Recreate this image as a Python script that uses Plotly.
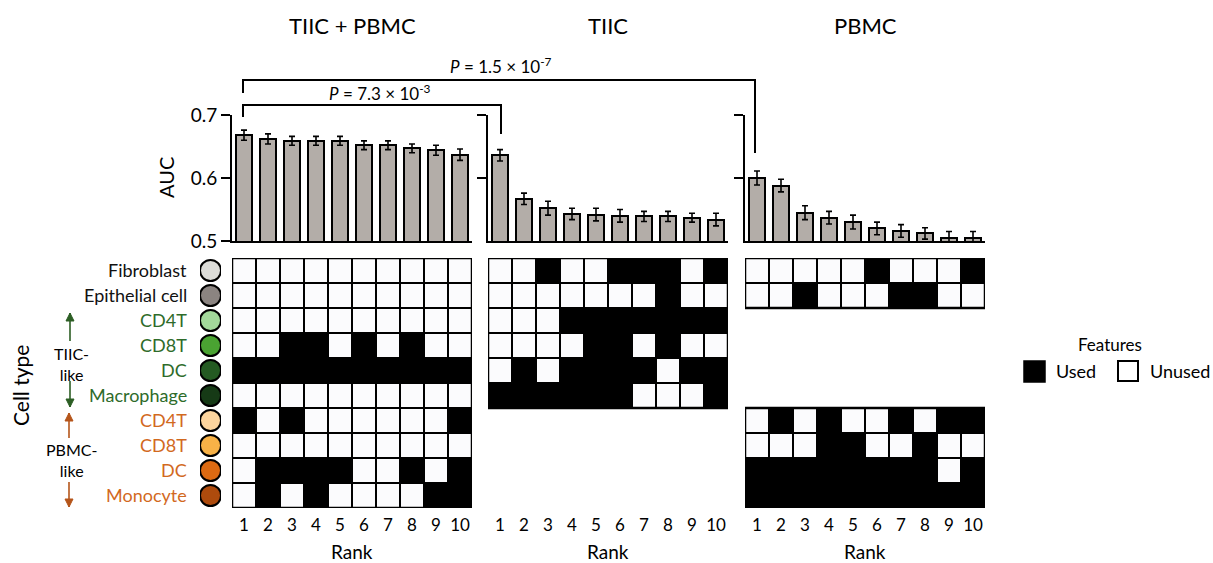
import plotly.graph_objects as go

W, H = 1213, 563
def X(px): return px / W
def Y(py): return 1 - py / H

FONT = "Lato"

ranks = list(range(1, 11))
rank_labels = [str(r) for r in ranks]

# AUC values
auc_both = [0.668, 0.662, 0.659, 0.659, 0.659, 0.652, 0.652, 0.647, 0.644, 0.637]
err_both = [0.008, 0.008, 0.007, 0.007, 0.007, 0.007, 0.007, 0.007, 0.008, 0.009]
auc_tiic = [0.636, 0.567, 0.552, 0.543, 0.542, 0.540, 0.539, 0.539, 0.537, 0.534]
err_tiic = [0.009, 0.009, 0.011, 0.009, 0.010, 0.010, 0.008, 0.008, 0.007, 0.010]
auc_pbmc = [0.600, 0.588, 0.545, 0.537, 0.530, 0.520, 0.516, 0.512, 0.505, 0.505]
err_pbmc = [0.011, 0.010, 0.011, 0.010, 0.011, 0.010, 0.010, 0.009, 0.010, 0.010]

cell_types = ["Fibroblast", "Epithelial cell", "CD4T", "CD8T", "DC", "Macrophage",
              "CD4T", "CD8T", "DC", "Monocyte"]
cell_colors = ["#dcdcd8", "#8b8481", "#a3d99b", "#4aa332", "#245a22", "#163a16",
               "#fdd59e", "#f8b247", "#dc6a12", "#ae4b0d"]
label_colors = ["#111111", "#111111", "#2e6b2a", "#2e6b2a", "#2e6b2a", "#2e6b2a",
                "#d2691e", "#d2691e", "#d2691e", "#d2691e"]

# Feature usage (1 = used, 0 = unused, None = not available)
use_both = [
    [0, 0, 0, 0, 0, 0, 0, 0, 0, 0],
    [0, 0, 0, 0, 0, 0, 0, 0, 0, 0],
    [0, 0, 0, 0, 0, 0, 0, 0, 0, 0],
    [0, 0, 1, 1, 0, 1, 0, 1, 0, 0],
    [1, 1, 1, 1, 1, 1, 1, 1, 1, 1],
    [0, 0, 0, 0, 0, 0, 0, 0, 0, 0],
    [1, 0, 1, 0, 0, 0, 0, 0, 0, 1],
    [0, 0, 0, 0, 0, 0, 0, 0, 0, 0],
    [0, 1, 1, 1, 1, 0, 0, 1, 0, 1],
    [0, 1, 0, 1, 0, 0, 0, 0, 1, 1],
]
NA = [None] * 10
use_tiic = [
    [0, 0, 1, 0, 0, 1, 1, 1, 0, 1],
    [0, 0, 0, 0, 0, 0, 0, 1, 0, 0],
    [0, 0, 0, 1, 1, 1, 1, 1, 1, 1],
    [0, 0, 0, 0, 1, 1, 0, 1, 0, 0],
    [0, 1, 0, 1, 1, 1, 1, 0, 1, 1],
    [1, 1, 1, 1, 1, 1, 0, 0, 0, 1],
    NA, NA, NA, NA,
]
use_pbmc = [
    [0, 0, 0, 0, 0, 1, 0, 0, 0, 1],
    [0, 0, 1, 0, 0, 0, 1, 1, 0, 0],
    NA, NA, NA, NA,
    [0, 1, 0, 1, 0, 0, 1, 0, 1, 1],
    [0, 0, 0, 1, 1, 0, 0, 1, 0, 0],
    [1, 1, 1, 1, 1, 1, 1, 1, 0, 1],
    [1, 1, 1, 1, 1, 1, 1, 1, 1, 1],
]
rows = list(range(10))

panel_titles = ["TIIC + PBMC", "TIIC", "PBMC"]
p_labels = ["<i>P</i> = 7.3 × 10<sup>-3</sup>", "<i>P</i> = 1.5 × 10<sup>-7</sup>"]

# ---------------------------------------------------------------- layout geometry (px)
panel_x = [(232, 472), (488, 728), (745, 985)]
bar_y = (241, 115)
hm_y = (508, 258)

fig = go.Figure()

bar_sets = [(auc_both, err_both), (auc_tiic, err_tiic), (auc_pbmc, err_pbmc)]
for i, (vals, errs) in enumerate(bar_sets):
    xa = "x" if i == 0 else f"x{i+1}"
    ya = "y" if i == 0 else f"y{i+1}"
    fig.add_trace(go.Bar(
        x=ranks, y=vals, width=0.64,
        marker=dict(color="#b3ada8", line=dict(color="black", width=2)),
        error_y=dict(type="data", array=errs, thickness=1.6, width=3, color="black"),
        xaxis=xa, yaxis=ya, showlegend=False, hoverinfo="skip"))

hm_sets = [use_both, use_tiic, use_pbmc]
for i, z in enumerate(hm_sets):
    fig.add_trace(go.Heatmap(
        z=z, x=ranks, y=rows, zmin=0, zmax=1,
        colorscale=[[0, "#fbfbfd"], [1, "#000000"]], showscale=False,
        xgap=2, ygap=2, xaxis=f"x{i+4}", yaxis=f"y{i+4}", hoverinfo="skip"))

# cell-type circles
fig.add_trace(go.Scatter(
    x=[0.5] * 10, y=rows, mode="markers",
    marker=dict(size=21, color=cell_colors, line=dict(color="black", width=2)),
    xaxis="x7", yaxis="y4", showlegend=False, hoverinfo="skip"))

layout = dict(
    width=W, height=H, margin=dict(l=0, r=0, t=0, b=0, pad=0, autoexpand=False),
    paper_bgcolor="white", plot_bgcolor="white",
    font=dict(family=FONT, size=16, color="black"),
    bargap=0, showlegend=False,
)

for i in range(3):
    x0, x1 = panel_x[i]
    sfx = "" if i == 0 else str(i + 1)
    layout[f"xaxis{sfx}"] = dict(
        domain=[X(x0), X(x1)], range=[0.5, 10.5], anchor=f"y{sfx}",
        showline=True, linewidth=2, linecolor="black", showticklabels=False,
        ticks="", showgrid=False, zeroline=False, fixedrange=True)
    ya = dict(
        domain=[Y(bar_y[0]), Y(bar_y[1])], range=[0.5, 0.7], anchor=f"x{sfx}",
        showline=True, linewidth=2, linecolor="black", ticks="outside",
        ticklen=9, tickwidth=2, tickcolor="black", showgrid=False, zeroline=False,
        fixedrange=True)
    if i == 0:
        ya.update(tickvals=[0.5, 0.6, 0.7], ticktext=["0.5", "0.6", "0.7"],
                  tickfont=dict(size=19))
    else:
        ya.update(tickvals=[0.6, 0.7], showticklabels=False)
    layout[f"yaxis{sfx}"] = ya

    k = i + 4
    layout[f"xaxis{k}"] = dict(
        domain=[X(x0), X(x1)], range=[0.5, 10.5], anchor=f"y{k}",
        tickvals=ranks, ticktext=rank_labels, ticks="outside", ticklen=2,
        tickcolor="rgba(0,0,0,0)", showline=False, showgrid=False, zeroline=False,
        tickfont=dict(size=17), fixedrange=True)
    layout[f"yaxis{k}"] = dict(
        domain=[Y(hm_y[0]), Y(hm_y[1])], range=[9.5, -0.5], anchor=f"x{k}",
        visible=False, fixedrange=True)

layout["xaxis7"] = dict(domain=[X(200), X(221)], range=[0, 1], visible=False,
                        anchor="y4", fixedrange=True)
fig.update_layout(**layout)

shapes = []
# black backgrounds + frames of the feature grids
blocks = [("x4", "y4", -0.5, 9.5), ("x5", "y5", -0.5, 5.5),
          ("x6", "y6", -0.5, 1.5), ("x6", "y6", 5.5, 9.5)]
for xr, yr, y0, y1 in blocks:
    shapes.append(dict(type="rect", xref=xr, yref=yr, x0=0.5, x1=10.5, y0=y0, y1=y1,
                       fillcolor="black", line=dict(color="black", width=0), layer="below"))
    shapes.append(dict(type="rect", xref=xr, yref=yr, x0=0.5, x1=10.5, y0=y0, y1=y1,
                       fillcolor="rgba(0,0,0,0)", line=dict(color="black", width=2.5),
                       layer="above"))

# significance brackets
def line(xa, ya, xb, yb, color="black", width=2):
    shapes.append(dict(type="line", xref="paper", yref="paper",
                       x0=X(xa), y0=Y(ya), x1=X(xb), y1=Y(yb),
                       line=dict(color=color, width=width)))
line(243, 80, 755, 80)
line(243, 79, 243, 93)
line(755, 79, 755, 153)
line(243, 105, 501, 105)
line(243, 104, 243, 117)
line(501, 104, 501, 134)

# legend squares
shapes.append(dict(type="rect", xref="paper", yref="paper", x0=X(1024), x1=X(1045),
                   y0=Y(382), y1=Y(361), fillcolor="black", line=dict(color="black", width=1.5)))
shapes.append(dict(type="rect", xref="paper", yref="paper", x0=X(1118), x1=X(1138),
                   y0=Y(381), y1=Y(361), fillcolor="white", line=dict(color="black", width=2)))

# vertical arrows beside the TIIC-like / PBMC-like groups
def arrow(x, yhead, ytail, color):
    line(x, ytail, x, yhead, color=color, width=1.6)
    d = 1 if ytail > yhead else -1
    path = (f"M {X(x - 4)},{Y(yhead + 8 * d)} L {X(x)},{Y(yhead)} "
            f"L {X(x + 4)},{Y(yhead + 8 * d)} Z")
    shapes.append(dict(type="path", xref="paper", yref="paper", path=path,
                       fillcolor=color, line=dict(color=color, width=1)))
arrow(70, 313, 341, "#2c5e24")
arrow(70, 407, 381, "#2c5e24")
arrow(69, 413, 438, "#b5551a")
arrow(69, 507, 482, "#b5551a")

ann = []
def text(t, x, y, size=16, color="black", xanchor="center", angle=0):
    ann.append(dict(text=t, x=X(x), y=Y(y), xref="paper", yref="paper", showarrow=False,
                    xanchor=xanchor, yanchor="middle", textangle=angle,
                    font=dict(family=FONT, size=size, color=color)))

for i in range(3):
    x0, x1 = panel_x[i]
    text(panel_titles[i], (x0 + x1) / 2, 25, size=22)
    text("Rank", (x0 + x1) / 2, 551, size=19)
text(p_labels[0], 380, 92, size=17)
text(p_labels[1], 501, 65, size=17)
text("AUC", 166, 178, size=20, angle=-90)
text("Cell type", 20, 386, size=21, angle=-90)
text("TIIC-<br>like", 71, 364, size=16)
text("PBMC-<br>like", 71, 460, size=16)
text("Features", 1110, 344, size=17)
text("Used", 1054, 371, size=18, xanchor="left")
text("Unused", 1148, 371, size=18, xanchor="left")

for i, (lab, col) in enumerate(zip(cell_types, label_colors)):
    ann.append(dict(text=lab, x=X(189), y=i, xref="paper", yref="y4", showarrow=False,
                    xanchor="right", yanchor="middle",
                    font=dict(family=FONT, size=18, color=col)))

fig.update_layout(shapes=shapes, annotations=ann)
# the default HTML page has an 8px body margin; remove it so the 1213x563 figure fills the window
fig.write_html("out.html", config={"displayModeBar": False},
               post_script="document.body.style.margin='0px';")
